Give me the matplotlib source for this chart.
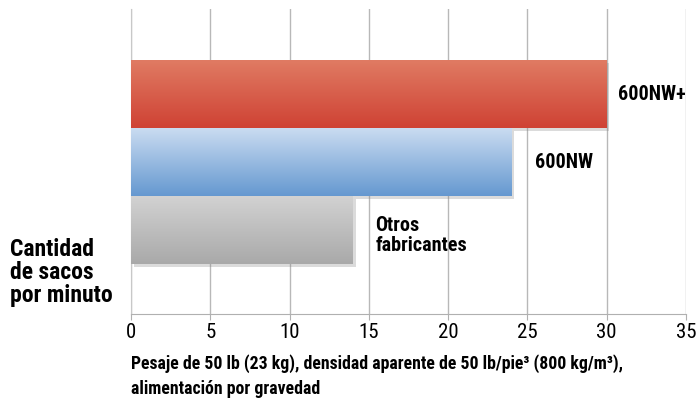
import numpy as np
import matplotlib
matplotlib.use("Agg")
import matplotlib.pyplot as plt
from matplotlib import patheffects as pe
from matplotlib import font_manager as fm
from matplotlib.colors import LinearSegmentedColormap

# data (bottom to top)
names = ["Otros\nfabricantes", "600NW", "600NW+"]
values = [14, 24, 30]
tops = ["#d2d2d2", "#cadcf1", "#e07b63"]
bottoms = ["#a9a9a9", "#6598d0", "#cf4234"]

# pick a narrow face if there is one
have = {f.name for f in fm.fontManager.ttflist}
fam = 'Roboto'
for cand in ['Liberation Sans Narrow', 'Roboto Condensed', 'DejaVu Sans Condensed', 'Open Sans Condensed']:
    if cand in have:
        fam = cand
        break
plt.rcParams['font.family'] = [fam, 'DejaVu Sans']

fig = plt.figure(figsize=(6.97, 4.02), dpi=100)
ax = fig.add_axes([131/697, 1 - 315/402, 555/697, 305/402])

ypos = np.arange(len(values))
bars = ax.barh(ypos, values, height=1.0, color='none', edgecolor='none', zorder=2)

grad = np.linspace(0, 1, 256).reshape(-1, 1)
for b, c1, c2 in zip(bars, tops, bottoms):
    b.set_path_effects([pe.SimplePatchShadow(offset=(2, -2), shadow_rgbFace='#888888', alpha=0.3),
                        pe.Normal()])
    cmap = LinearSegmentedColormap.from_list('g', [c1, c2])
    x0, y0 = b.get_x(), b.get_y()
    w, h = b.get_width(), b.get_height()
    im = ax.imshow(grad, cmap=cmap, aspect='auto', extent=[x0, x0 + w, y0, y0 + h],
                   origin='upper', zorder=3, interpolation='bilinear')
    im.set_clip_path(b)

# bar labels
ax.text(values[2] + 0.7, ypos[2], names[2], fontsize=14.5, fontweight='bold', va='center', ha='left')
ax.text(values[1] + 1.5, ypos[1], names[1], fontsize=14.5, fontweight='bold', va='center', ha='left')
ax.text(values[0] + 1.4, ypos[0] - 0.07, names[0], fontsize=14.5, fontweight='bold', va='center', ha='left',
        linespacing=1.05)

ax.set_xlim(0, 35)
ax.set_ylim(-1.24, 3.25)
ax.set_xticks(np.arange(0, 36, 5))
ax.set_yticks([])
ax.grid(axis='x', color='#b8b8b8', linewidth=1, zorder=0)
ax.set_axisbelow(True)
for s in ['top', 'right']:
    ax.spines[s].set_visible(False)
ax.spines['left'].set_color('#c8c8c8')
ax.spines['bottom'].set_color('#b0b0b0')
ax.tick_params(axis='x', length=4, color='#b0b0b0', labelsize=15, pad=2)

fig.text(10/697, 1 - 273/402, "Cantidad\nde sacos\npor minuto", fontsize=17, fontweight='bold',
         va='center', ha='left', linespacing=1.0)
fig.text(131/697, 1 - 376/402,
         "Pesaje de 50 lb (23 kg), densidad aparente de 50 lb/pie\u00b3 (800 kg/m\u00b3),\nalimentación por gravedad",
         fontsize=12.8, fontweight='bold', va='center', ha='left', linespacing=1.45)

fig.savefig('out.png', dpi=100)
